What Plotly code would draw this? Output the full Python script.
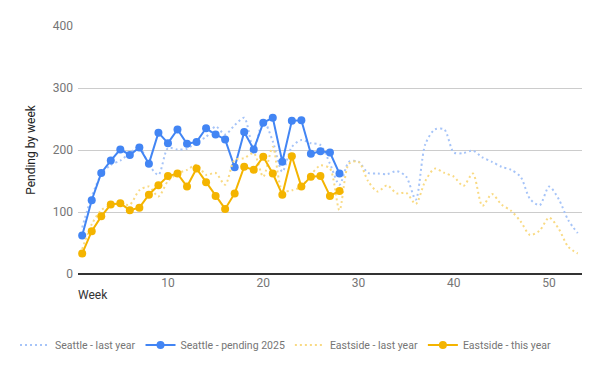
import plotly.graph_objects as go

weeks_all = list(range(1, 54))
weeks_ytd = list(range(1, 29))

seattle_last_year = [75, 125, 160, 176, 183, 195, 205, 176, 160, 203,
                     201, 202, 213, 221, 238, 225, 240, 252, 200, 248,
                     214, 165, 205, 216, 211, 208, 178, 144, 181, 181,
                     163, 162, 161, 166, 157, 120, 209, 233, 233, 196,
                     195, 199, 188, 181, 173, 168, 157, 121, 111, 141,
                     121, 87, 66]
seattle_2025 = [62, 119, 163, 183, 201, 192, 204, 178, 228, 211,
                233, 210, 213, 235, 225, 217, 172, 229, 201, 244,
                252, 181, 247, 248, 194, 198, 196, 162]
eastside_last_year = [40, 80, 103, 111, 113, 112, 135, 141, 125, 150,
                      162, 168, 176, 160, 163, 144, 184, 187, 195, 157,
                      205, 135, 135, 141, 160, 175, 170, 103, 178, 181,
                      150, 133, 143, 130, 131, 113, 150, 170, 163, 157,
                      142, 162, 110, 129, 112, 102, 85, 63, 70, 91,
                      73, 44, 33]
eastside_this_year = [33, 69, 93, 112, 114, 103, 107, 128, 143, 158,
                      162, 141, 170, 148, 126, 105, 130, 173, 168, 189,
                      162, 128, 190, 141, 157, 158, 126, 134]

x_ticks = [10, 20, 30, 40, 50]
y_ticks = [0, 100, 200, 300, 400]

BLUE = "#4285F4"
BLUE_L = "#A6C4F8"
ORANGE = "#F4B400"
ORANGE_L = "#F9DA83"
FONT = "Roboto"

fig = go.Figure()
fig.add_trace(go.Scatter(x=weeks_all, y=seattle_last_year, mode="lines",
                         name="Seattle - last year",
                         line=dict(color=BLUE_L, width=2, dash="2px,3px",
                                   shape="spline", smoothing=0.8)))
fig.add_trace(go.Scatter(x=weeks_ytd, y=seattle_2025, mode="lines+markers",
                         name="Seattle - pending 2025",
                         line=dict(color=BLUE, width=2),
                         marker=dict(color=BLUE, size=8)))
fig.add_trace(go.Scatter(x=weeks_all, y=eastside_last_year, mode="lines",
                         name="Eastside - last year",
                         line=dict(color=ORANGE_L, width=2, dash="2px,3px",
                                   shape="spline", smoothing=0.8)))
fig.add_trace(go.Scatter(x=weeks_ytd, y=eastside_this_year, mode="lines+markers",
                         name="Eastside - this year",
                         line=dict(color=ORANGE, width=2),
                         marker=dict(color=ORANGE, size=8)))

fig.update_layout(
    width=600, height=371,
    margin=dict(l=78, r=18, t=26, b=97, autoexpand=False),
    paper_bgcolor="white", plot_bgcolor="white",
    font=dict(family=FONT, size=12, color="#757575"),
    showlegend=True,
    legend=dict(orientation="h", x=-0.125, xanchor="left", y=-0.286,
                yanchor="middle", font=dict(size=10.5, color="#757575"),
                itemwidth=30, tracegroupgap=0),
    xaxis=dict(range=[0.56, 53.45], tickvals=x_ticks, showgrid=False,
               zeroline=False, showline=False, ticks="",
               tickfont=dict(size=12, color="#757575")),
    yaxis=dict(range=[0, 400], tickvals=y_ticks, showgrid=True,
               gridcolor="#cccccc", gridwidth=1, zeroline=True,
               zerolinecolor="#333333", zerolinewidth=1.5, showline=False,
               ticks="", ticklabelstandoff=4,
               tickfont=dict(size=12, color="#757575"),
               title=dict(text="Pending by week", standoff=14,
                          font=dict(size=12, color="#222222"))),
    annotations=[dict(text="Week", xref="paper", yref="paper",
                      x=-0.004, y=-0.085, xanchor="left", yanchor="middle",
                      showarrow=False, font=dict(size=12, color="#333333"))],
)

fig.write_html("out.html",
               config={"displayModeBar": False},
               post_script="document.body.style.margin='0';document.body.style.padding='0';")
